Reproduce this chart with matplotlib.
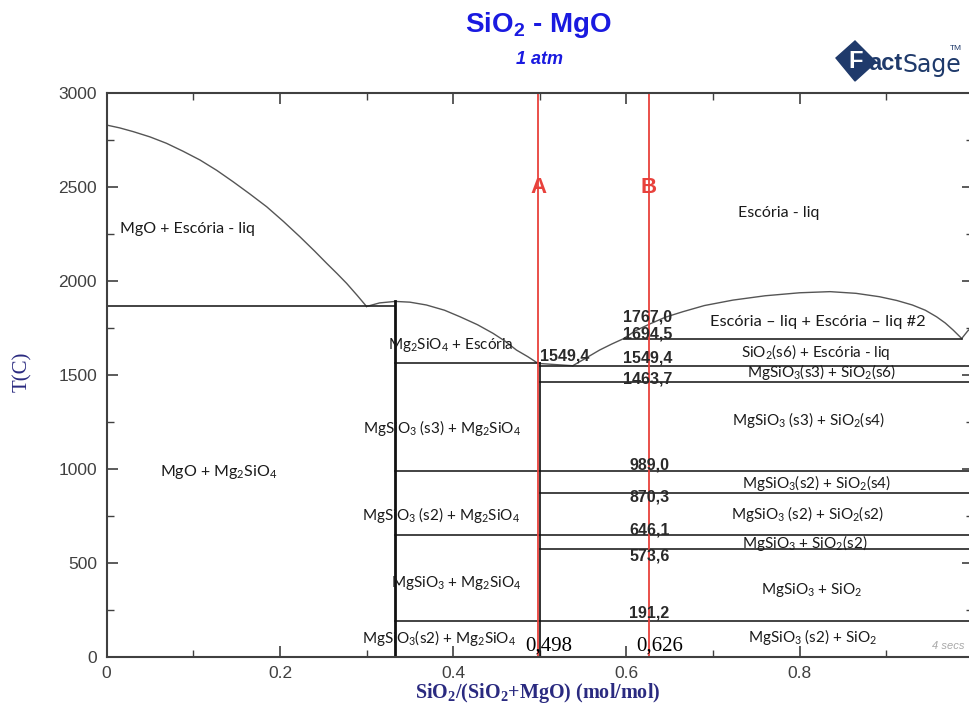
import matplotlib
matplotlib.use("Agg")
import matplotlib.pyplot as plt
from matplotlib.patches import Polygon
from matplotlib.ticker import MultipleLocator

plt.rcParams["mathtext.fontset"] = "custom"
plt.rcParams["mathtext.rm"] = "Lato"
plt.rcParams["mathtext.it"] = "Lato:italic"
plt.rcParams["mathtext.bf"] = "Lato:bold"

# ---- phase boundaries (x = SiO2 mole fraction, T in C) ----
mgo_liq_x = [0.0, 0.015, 0.0307, 0.05, 0.069, 0.088, 0.1077, 0.127, 0.146, 0.165,
             0.1847, 0.204, 0.2231, 0.240, 0.2539, 0.266, 0.277, 0.289, 0.300]
mgo_liq_T = [2831, 2816, 2796, 2768, 2734, 2692, 2645, 2590, 2529, 2465,
             2396, 2318, 2236, 2160, 2095, 2040, 1988, 1925, 1865]

fo_liq_x = [0.300, 0.315, 0.333, 0.350, 0.369, 0.390, 0.408, 0.428, 0.446, 0.460, 0.473, 0.486, 0.498]
fo_liq_T = [1865, 1884, 1892, 1888, 1873, 1845, 1810, 1768, 1722, 1680, 1633, 1598, 1562]

en_liq_x = [0.498, 0.520, 0.538]
en_liq_T = [1562, 1555, 1549.4]

cr_liq_x = [0.538, 0.555, 0.569, 0.583, 0.597]
cr_liq_T = [1549.4, 1595, 1633, 1665, 1694.5]

dome_x = [0.597, 0.610, 0.627, 0.645, 0.665, 0.690, 0.723, 0.760, 0.800, 0.835,
          0.865, 0.892, 0.912, 0.930, 0.945, 0.958, 0.968, 0.977, 0.987]
dome_T = [1694.5, 1735, 1772, 1808, 1837, 1870, 1899, 1922, 1938, 1944,
          1935, 1917, 1897, 1873, 1845, 1810, 1777, 1740, 1694.5]

si_liq_x = [0.987, 0.994, 1.0]
si_liq_T = [1694.5, 1735, 1760]

# isotherms: temperature, start and end composition
iso_T = [1865, 1562, 1549.4, 1694.5, 1463.7, 989.0, 870.3, 646.1, 573.6, 191.2]
iso_x0 = [0.0, 0.333, 0.500, 0.597, 0.500, 0.333, 0.500, 0.333, 0.500, 0.333]
iso_x1 = [0.333, 0.500, 1.0, 0.987, 1.0, 1.0, 1.0, 1.0, 1.0, 1.0]

# compound lines
comp_x = [0.333, 0.500]
comp_top = [1892, 1562]
comp_lw = [2.0, 1.2]

# marked temperatures (text, x, T)
temp_labels = ["1767,0", "1694,5", "1549,4", "1549,4", "1463,7",
               "989,0", "870,3", "646,1", "573,6", "191,2"]
temp_lab_x = [0.596, 0.596, 0.500, 0.596, 0.596, 0.603, 0.603, 0.603, 0.603, 0.603]
temp_lab_T = [1810, 1720, 1600, 1590, 1480, 1020, 850, 675, 535, 235]

# sections
sec_names = ["A", "B"]
sec_x = [0.498, 0.626]
sec_vals = ["0,498", "0,626"]

# phase field labels
regions = [
    ("MgO + Escória - liq", 0.015, 2277, 11.5),
    ("MgO + Mg$_2$SiO$_4$", 0.061, 983, 11.5),
    ("Mg$_2$SiO$_4$ + Escória", 0.325, 1660, 11),
    ("MgSiO$_3$ (s3) + Mg$_2$SiO$_4$", 0.296, 1217, 11),
    ("MgSiO$_3$ (s2) + Mg$_2$SiO$_4$", 0.295, 754, 11),
    ("MgSiO$_3$ + Mg$_2$SiO$_4$", 0.328, 392, 11),
    ("MgSiO$_3$(s2) + Mg$_2$SiO$_4$", 0.295, 99, 11),
    ("Escória - liq", 0.729, 2362, 11.5),
    ("Escória – liq + Escória – liq #2", 0.697, 1781, 11.8),
    ("SiO$_2$(s6) + Escória - liq", 0.732, 1622, 11),
    ("MgSiO$_3$(s3) + SiO$_2$(s6)", 0.739, 1516, 11),
    ("MgSiO$_3$ (s3) + SiO$_2$(s4)", 0.722, 1261, 11),
    ("MgSiO$_3$(s2) + SiO$_2$(s4)", 0.733, 925, 11),
    ("MgSiO$_3$ (s2) + SiO$_2$(s2)", 0.721, 760, 11),
    ("MgSiO$_3$ + SiO$_2$(s2)", 0.733, 605, 11),
    ("MgSiO$_3$ + SiO$_2$", 0.755, 355, 11),
    ("MgSiO$_3$ (s2) + SiO$_2$", 0.740, 104, 11),
]

x_ticks = [0, 0.2, 0.4, 0.6, 0.8]
x_ticklabels = ["0", "0.2", "0.4", "0.6", "0.8"]
y_ticks = [0, 500, 1000, 1500, 2000, 2500, 3000]

fig = plt.figure(figsize=(9.69, 7.06), dpi=100)
ax = fig.add_axes([0.1101, 0.0698, 0.894, 0.798])
ax.set_xlim(0, 1)
ax.set_ylim(0, 3000)

curve_color = "#555555"
for xs, ts in [(mgo_liq_x, mgo_liq_T), (fo_liq_x, fo_liq_T), (en_liq_x, en_liq_T),
               (cr_liq_x, cr_liq_T), (dome_x, dome_T), (si_liq_x, si_liq_T)]:
    ax.plot(xs, ts, color=curve_color, lw=1.0, solid_joinstyle="round")

for t, x0, x1 in zip(iso_T, iso_x0, iso_x1):
    ax.plot([x0, x1], [t, t], color="#222222", lw=1.2)

for x, top, lw in zip(comp_x, comp_top, comp_lw):
    ax.plot([x, x], [0, top], color="#111111", lw=lw)

for x, name in zip(sec_x, sec_names):
    ax.axvline(x, color="#e8413c", lw=1.3)
    ax.text(x, 2500, name, color="#e8413c", fontsize=16, fontweight="bold",
            ha="center", va="center", family="Liberation Sans")

for x, v in zip(sec_x, sec_vals):
    ax.text(x - 0.015, 5, v, color="black", fontsize=15, ha="left", va="bottom",
            family="Liberation Serif")

for txt, x, t in zip(temp_labels, temp_lab_x, temp_lab_T):
    ax.text(x, t, txt, fontsize=11.5, fontweight="bold", color="#2a2a2a",
            family="Liberation Sans", ha="left", va="center")

for txt, x, t, fs in regions:
    ax.text(x, t, txt, fontsize=fs, color="#1a1a1a", family="Lato",
            ha="left", va="center")

ax.text(0.972, 30, "4 secs", fontsize=8, color="#a8a8a8", style="italic",
        family="Liberation Sans", ha="center", va="bottom")

# axes styling
ax.set_xticks(x_ticks)
ax.set_xticklabels(x_ticklabels)
ax.set_yticks(y_ticks)
ax.xaxis.set_minor_locator(MultipleLocator(0.1))
ax.yaxis.set_minor_locator(MultipleLocator(250))
ax.tick_params(which="both", direction="in", top=True, right=True,
               color="#404040", labelcolor="#404040", labelsize=12.5)
ax.tick_params(which="major", length=8, width=1.2, pad=7)
ax.tick_params(which="minor", length=5, width=1.0)
for lab in ax.get_xticklabels() + ax.get_yticklabels():
    lab.set_family("Liberation Sans")
for sp in ax.spines.values():
    sp.set_color("#404040")
    sp.set_linewidth(1.5)

label_color = "#2a2a80"
fig.text(538 / 969, 1 - 693 / 706,
         "SiO$_\\mathregular{2}$/(SiO$_\\mathregular{2}$+MgO) (mol/mol)",
         fontsize=14.5, fontweight="bold", color=label_color,
         family="Liberation Serif", ha="center", va="center")
fig.text(22 / 969, 1 - 372 / 706, "T(C)", fontsize=15, color=label_color,
         family="Liberation Serif", rotation=90, ha="center", va="center")

# title
fig.text(538 / 969, 1 - 25 / 706, "SiO$_\\mathregular{2}$ - MgO", fontsize=20,
         fontweight="bold", color="#1a1ae0", ha="center", va="center",
         family="Liberation Sans")
fig.text(540 / 969, 1 - 59 / 706, "1 atm", fontsize=13, fontweight="bold",
         style="italic", color="#1a1ae0", ha="center", va="center",
         family="Liberation Sans")

# FactSage mark
navy = "#1f3a6b"
diamond = Polygon([[836 / 969, 1 - 58 / 706], [855 / 969, 1 - 41 / 706],
                   [876 / 969, 1 - 62 / 706], [855 / 969, 1 - 81 / 706]],
                  closed=True, transform=fig.transFigure, color=navy)
fig.patches.append(diamond)
fig.text(856 / 969, 1 - 62 / 706, "F", fontsize=17, fontweight="bold", color="white",
         ha="center", va="center", family="Liberation Sans")
fig.text(868 / 969, 1 - 63 / 706, "act", fontsize=17, fontweight="bold", color=navy,
         ha="left", va="center", family="Liberation Sans")
fig.text(902 / 969, 1 - 65 / 706, "Sage", fontsize=17, color=navy,
         ha="left", va="center", family="Liberation Sans Narrow")
fig.text(950 / 969, 1 - 48 / 706, "TM", fontsize=6, color=navy,
         ha="left", va="center", family="Liberation Sans")

fig.savefig("out.png", dpi=100)
